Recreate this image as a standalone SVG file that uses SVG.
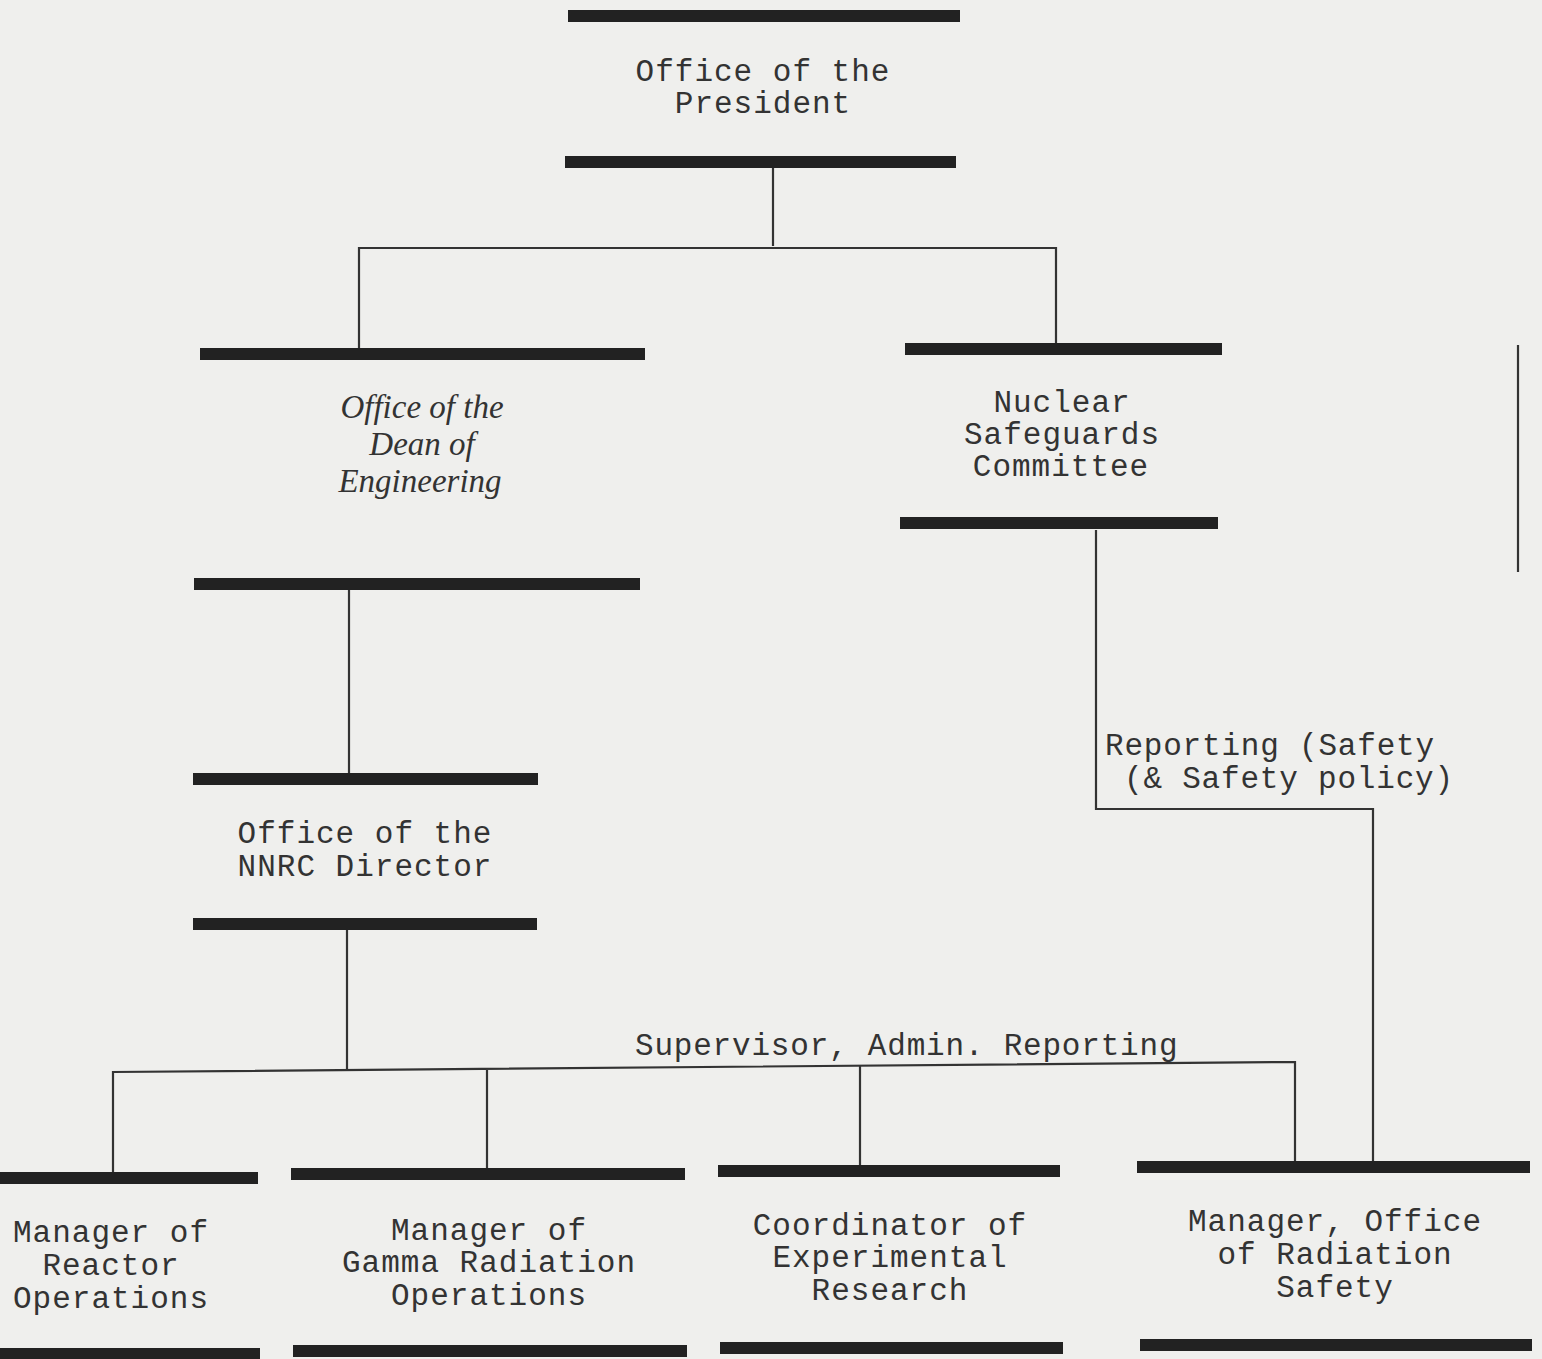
<svg xmlns="http://www.w3.org/2000/svg" width="1542" height="1359" viewBox="0 0 1542 1359">
<style>
.bg{fill:#efefed}
.bar{fill:#222}
.t{font-family:"Liberation Mono","Courier New",monospace;font-size:31px;letter-spacing:1px;fill:#333;text-anchor:middle}
.ti{font-family:"Liberation Serif","Times New Roman",serif;font-style:italic;font-size:33px;fill:#333;text-anchor:middle}
.lab{font-family:"Liberation Mono","Courier New",monospace;font-size:31px;letter-spacing:0.8px;fill:#333}
.c{fill:none;stroke:#333;stroke-width:2.2}
</style>
<rect class="bg" x="0" y="0" width="1542" height="1359"/>
<g id="connectors">
<path class="c" d="M773 168 V246"/>
<path class="c" d="M359 348 V248 H1056 V343"/>
<path class="c" d="M349 590 V774"/>
<path class="c" d="M347 930 V1071"/>
<path class="c" d="M113 1176 V1072 L1295 1062 V1163"/>
<path class="c" d="M487 1070 V1170"/>
<path class="c" d="M860 1066 V1167"/>
<path class="c" d="M1096 530 V809 H1373 V1163"/>
<path class="c" d="M1518 345 V572"/>
<text class="lab" x="635" y="1055">Supervisor, Admin. Reporting</text>
<text class="lab" x="1105" y="755">Reporting (Safety</text>
<text class="lab" x="1124" y="788">(&amp; Safety policy)</text>
</g>
<g id="president">
<rect class="bar" x="568" y="10" width="392" height="12"/>
<rect class="bar" x="565" y="156" width="391" height="12"/>
<text class="t" x="763" y="81">Office of the</text>
<text class="t" x="763" y="113">President</text>
</g>
<g id="dean">
<rect class="bar" x="200" y="348" width="445" height="12"/>
<rect class="bar" x="194" y="578" width="446" height="12"/>
<text class="ti" x="422" y="418">Office of the</text>
<text class="ti" x="422" y="455">Dean of</text>
<text class="ti" x="420" y="492">Engineering</text>
</g>
<g id="safeguards">
<rect class="bar" x="905" y="343" width="317" height="12"/>
<rect class="bar" x="900" y="517" width="318" height="12"/>
<text class="t" x="1062" y="412">Nuclear</text>
<text class="t" x="1062" y="444">Safeguards</text>
<text class="t" x="1061" y="476">Committee</text>
</g>
<g id="director">
<rect class="bar" x="193" y="773" width="345" height="12"/>
<rect class="bar" x="193" y="918" width="344" height="12"/>
<text class="t" x="365" y="843">Office of the</text>
<text class="t" x="365" y="876">NNRC Director</text>
</g>
<g id="reactor">
<rect class="bar" x="0" y="1172" width="258" height="12"/>
<rect class="bar" x="0" y="1348" width="260" height="12"/>
<text class="t" x="111" y="1242">Manager of</text>
<text class="t" x="111" y="1275">Reactor</text>
<text class="t" x="111" y="1308">Operations</text>
</g>
<g id="gamma">
<rect class="bar" x="291" y="1168" width="394" height="12"/>
<rect class="bar" x="293" y="1345" width="394" height="12"/>
<text class="t" x="489" y="1240">Manager of</text>
<text class="t" x="489" y="1272">Gamma Radiation</text>
<text class="t" x="489" y="1305">Operations</text>
</g>
<g id="coordinator">
<rect class="bar" x="718" y="1165" width="342" height="12"/>
<rect class="bar" x="720" y="1342" width="343" height="12"/>
<text class="t" x="890" y="1235">Coordinator of</text>
<text class="t" x="890" y="1267">Experimental</text>
<text class="t" x="890" y="1300">Research</text>
</g>
<g id="radiation">
<rect class="bar" x="1137" y="1161" width="393" height="12"/>
<rect class="bar" x="1140" y="1339" width="392" height="12"/>
<text class="t" x="1335" y="1231">Manager, Office</text>
<text class="t" x="1335" y="1264">of Radiation</text>
<text class="t" x="1335" y="1297">Safety</text>
</g>
</svg>
